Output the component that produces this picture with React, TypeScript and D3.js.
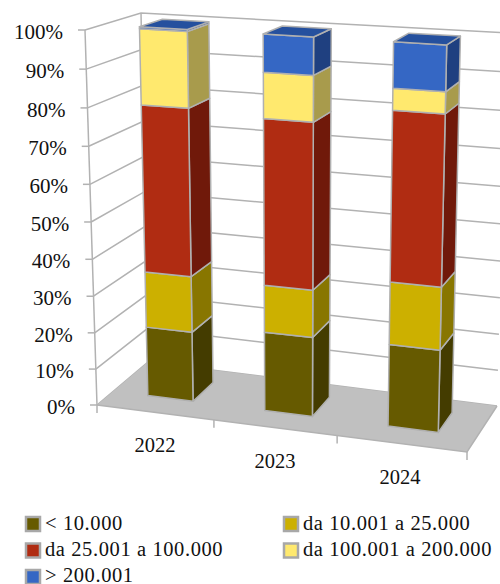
import React from "react";
import * as d3 from "d3";

const years = ["2022", "2023", "2024"];
const seriesNames = ["< 10.000", "da 10.001 a 25.000", "da 25.001 a 100.000", "da 100.001 a 200.000", "> 200.001"];
const s1 = [19.3, 21.6, 22.0];
const s2 = [15.3, 12.75, 16.6];
const s3 = [45.0, 44.0, 44.25];
const s4 = [19.9, 11.95, 5.55];
const s5 = [0.5, 9.7, 11.6];
const seriesValues = [s1, s2, s3, s4, s5];
const frontColors = ["#665a00", "#ccb000", "#b02c12", "#ffe96e", "#3567c4"];
const sideColors = ["#443c00", "#887600", "#70190a", "#a89b4c", "#1f4080"];
const topColor = "#25509e";
const ticks = d3.range(0, 101, 10);

type P = [number, number];
const lerp = (a: P, b: P, t: number): P => [a[0] + (b[0] - a[0]) * t, a[1] + (b[1] - a[1]) * t];
const FBL: P = [97, 405], FBR: P = [467, 452], BBL: P = [148, 362], BBR: P = [497, 406];
const FTL: P = [85, 30], FTR: P = [478, 54], BTL: P = [141, 13], BTR: P = [507, 33];
const wScale = d3.scaleLinear().domain([0, 100]).range([0, 1]);
const uWarp = d3.scaleLinear().domain([0, 1 / 3, 2 / 3, 1]).range([0, 0.316, 0.649, 1]);
function project(u: number, v: number, val: number): P {
  const t = wScale(val);
  const w = t / (t + 1.049 * (1 - t));
  const uu = uWarp(u);
  const a = lerp(lerp(FBL, FBR, uu), lerp(BBL, BBR, uu), v);
  const b = lerp(lerp(FTL, FTR, uu), lerp(BTL, BTR, uu), v);
  return lerp(a, b, w);
}
const band = d3.scaleBand<string>().domain(years).range([0, 1]).paddingInner(0.607).paddingOuter(0.3);
const V0 = 0.32, V1 = 0.75;
const path = d3.line();
const GRID = "#b2b2b2";
const FONT = "'Liberation Serif', serif";

export default function App() {
  const stacks = years.map((_, i) => {
    let acc = 0;
    return seriesValues.map((s) => {
      const lo = acc;
      acc += s[i];
      return [lo, acc];
    });
  });
  return (
    <svg width={500} height={584} style={{ position: "absolute", left: 0, top: 0, background: "#fff" }} fontFamily={FONT} fill="#111">
      {/* walls */}
      {ticks.map((t) => (
        <g key={t} stroke={GRID} strokeWidth={1.5} fill="none">
          <path d={path([project(0, 0, t), project(0, 1, t), project(1, 1, t)])!} />
          <path d={path([project(0, 0, t), [project(0, 0, t)[0] - 7, project(0, 0, t)[1]]])!} />
        </g>
      ))}
      <g stroke={GRID} strokeWidth={1.5} fill="none">
        <path d={path([project(0, 0, 0), project(0, 0, 100)])!} />
        <path d={path([project(0, 1, 0), project(0, 1, 100)])!} />
      </g>
      {/* floor */}
      <path d={path([project(0, 0, 0), project(1, 0, 0), project(1, 1, 0), project(0, 1, 0)])! + "Z"} fill="#c0c0c0" stroke="none" />
      <path d={path([project(0, 0, 0), project(1, 0, 0), project(1, 1, 0)])!} fill="none" stroke={GRID} strokeWidth={1.5} />
      {d3.range(0, 4).map((i) => {
        const p = project(i / 3, 0, 0);
        return <path key={i} d={path([p, [p[0], p[1] + 8]])!} stroke={GRID} strokeWidth={1.5} fill="none" />;
      })}
      {/* bars */}
      {years.map((y, i) => {
        const u0 = band(y)!, u1 = u0 + band.bandwidth();
        return (
          <g key={y} stroke="#b0b0b0" strokeWidth={1.5} strokeLinejoin="round">
            {stacks[i].map(([lo, hi], k) => (
              <g key={k}>
                <path fill={sideColors[k]} d={path([project(u1, V0, lo), project(u1, V1, lo), project(u1, V1, hi), project(u1, V0, hi)])! + "Z"} />
                <path fill={frontColors[k]} d={path([project(u0, V0, lo), project(u1, V0, lo), project(u1, V0, hi), project(u0, V0, hi)])! + "Z"} />
              </g>
            ))}
            <path fill={topColor} d={path([project(u0, V0, 100), project(u1, V0, 100), project(u1, V1, 100), project(u0, V1, 100)])! + "Z"} />
          </g>
        );
      })}
      {/* axis labels */}
      {ticks.map((t) => {
        const p = project(0, 0, t);
        return (
          <text key={t} x={p[0] - 22} y={p[1] + 9} textAnchor="end" fontSize={21}>{t}%</text>
        );
      })}
      {years.map((y, i) => {
        const p = project((i + 0.5) / 3, 0, 0);
        return (
          <text key={y} x={[155, 275, 400][i]} y={p[1] + 40} textAnchor="middle" fontSize={20.5}>{y}</text>
        );
      })}
      {/* legend */}
      {seriesNames.map((n, k) => {
        const col = k % 2, row = Math.floor(k / 2);
        const x = col === 0 ? 26 : 284;
        return (
          <g key={n}>
            <rect x={x} y={517 + row * 26.5} width={14} height={14} fill={frontColors[k]} stroke="#a8a8a8" strokeWidth={2.5} />
            <text x={x + 19} y={530 + row * 26} fontSize={20.5} letterSpacing={0.6}>{n}</text>
          </g>
        );
      })}
    </svg>
  );
}
